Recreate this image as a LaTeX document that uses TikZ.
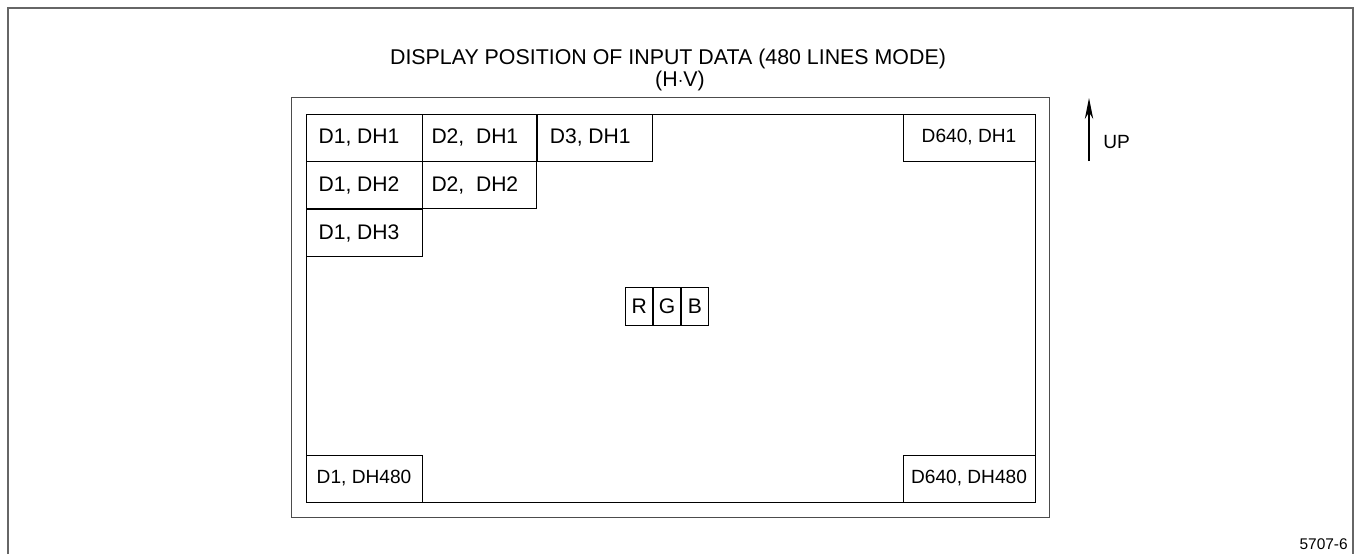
\documentclass[tikz,border=0pt]{standalone}
\usepackage{fontspec}
\setmainfont{Liberation Sans}
\usetikzlibrary{arrows.meta, positioning}

\begin{document}
\begin{tikzpicture}[x=0.025cm, y=-0.025cm, >=Stealth,
    txt/.style={font=\fontsize{13.6}{16}\selectfont, inner sep=0pt},
    cell/.style={draw, line width=0.6pt, inner sep=0pt, minimum height=1.175cm,
                 font=\fontsize{13.6}{16}\selectfont},
    gridcell/.style={cell, font=\fontsize{15}{18}\selectfont,
                     execute at end node=\hspace*{0.25cm}},
    rgbcell/.style={draw, line width=0.6pt, inner sep=0pt, minimum width=0.675cm,
                    minimum height=0.95cm, font=\fontsize{15}{18}\selectfont}]
  \useasboundingbox (0,0) rectangle (1361,554);

  % frame of the page
  \draw[line width=1.1pt, black!60] (8,554) -- (8,8) -- (1353,8) -- (1353,554);

  % title
  \node[txt, font=\fontsize{15.2}{18}\selectfont] (title) at (668,59)
    {DISPLAY POSITION OF INPUT DATA (480 LINES MODE)};
  \node[txt, font=\fontsize{15.2}{18}\selectfont] (hv) at (680,81) {(H$\cdot$V)};

  % screen
  \draw[line width=0.7pt, black!70] (291,97) rectangle (1049,517);
  \draw[line width=0.7pt] (306,114) rectangle (1035,502);

  % data cells
  \node[gridcell, minimum width=2.9cm] (d1h1) at (364,137.5) {D1, DH1};
  \node[gridcell, minimum width=2.85cm, right=0pt of d1h1] (d2h1) {D2,\ \ DH1};
  \node[gridcell, minimum width=2.875cm, right=0pt of d2h1] (d3h1) {D3, DH1};
  \node[gridcell, minimum width=2.9cm, below=0pt of d1h1] (d1h2) {D1, DH2};
  \node[gridcell, minimum width=2.85cm, right=0pt of d1h2] (d2h2) {D2,\ \ DH2};
  \node[gridcell, minimum width=2.9cm, below=0pt of d1h2] (d1h3) {D1, DH3};
  \node[cell, minimum width=3.3cm] (d640h1) at (969,137.5) {D640, DH1};
  \node[cell, minimum width=2.9cm] (d1h480) at (364,478.5) {D1, DH480};
  \node[cell, minimum width=3.3cm] (d640h480) at (969,478.5) {D640, DH480};

  % one pixel
  \node[rgbcell] (g) at (667,306) {G};
  \node[rgbcell, left=0pt of g] (r) {R};
  \node[rgbcell, right=0pt of g] (b) {B};

  % direction
  \coordinate (upfoot) at (1089,161);
  \coordinate (uphead) at (1089,98);
  \draw[-{Stealth[length=15pt, width=6pt]}, line width=0.8pt] (upfoot) -- (uphead);
  \node[txt, anchor=west] (up) at (1103,142) {UP};

  \node[txt, anchor=east, font=\fontsize{11}{13}\selectfont] (fig) at (1348,544) {5707-6};
\end{tikzpicture}
\end{document}
